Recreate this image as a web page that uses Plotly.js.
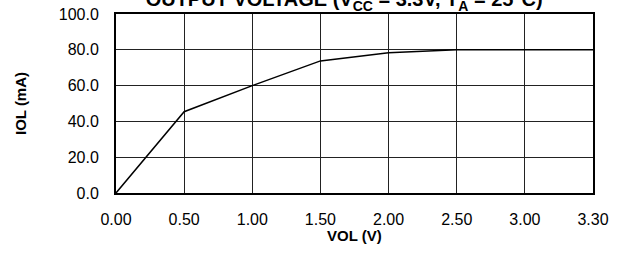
<!DOCTYPE html>
<html>
<head>
<meta charset="utf-8">
<script src="https://cdn.plot.ly/plotly-3.0.1.min.js"></script>
<style>html,body{margin:0;padding:0;background:#fff;}#chart{width:642px;height:253px;}</style>
</head>
<body>
<div id="chart"></div>
<script>
var vol = ["0.00", "0.50", "1.00", "1.50", "2.00", "2.50", "3.00", "3.30"];
var iol = [0, 45.4, 60.0, 73.8, 78.3, 80.0, 80.0, 80.0];
var yTicks = [0, 20, 40, 60, 80, 100];

var font = "Liberation Sans, Arial, Helvetica, sans-serif";
var trace = {
  x: vol, y: iol, type: "scatter", mode: "lines",
  line: {color: "#000", width: 1.5},
  hoverinfo: "none"
};
var layout = {
  width: 642, height: 253,
  margin: {l: 116, r: 49, t: 14, b: 60},
  paper_bgcolor: "#fff", plot_bgcolor: "#fff",
  showlegend: false,
  font: {family: font, color: "#000"},
  title: {
    text: "<b>OUTPUT VOLTAGE (V<sub>CC</sub> = 3.3V, T<sub>A</sub> = 25°C)</b>",
    font: {size: 20, family: font, color: "#000"},
    x: 0.536, xanchor: "center", y: 0.975, yref: "container", yanchor: "bottom"
  },
  xaxis: {
    type: "category", range: [0, 7],
    showgrid: true, gridcolor: "#222", gridwidth: 1,
    showline: true, linecolor: "#000", linewidth: 2, mirror: true,
    ticks: "", ticklabelstandoff: 11, tickfont: {size: 16, family: font},
    zeroline: false
  },
  yaxis: {
    range: [0, 100], tickvals: yTicks, tickformat: ".1f",
    showgrid: true, gridcolor: "#222", gridwidth: 1,
    showline: true, linecolor: "#000", linewidth: 2, mirror: true,
    ticks: "", ticklabelstandoff: 12, tickfont: {size: 16, family: font},
    zeroline: false,
    title: {text: "<b>IOL (mA)</b>", font: {size: 15, family: font}, standoff: 29}
  },
  annotations: [{
    text: "<b>VOL (V)</b>", xref: "paper", yref: "paper", x: 0.5, y: -0.235,
    xanchor: "center", yanchor: "middle", showarrow: false,
    font: {size: 15, family: font, color: "#000"}
  }]
};
Plotly.newPlot("chart", [trace], layout, {displayModeBar: false, staticPlot: true});
</script>
</body>
</html>
